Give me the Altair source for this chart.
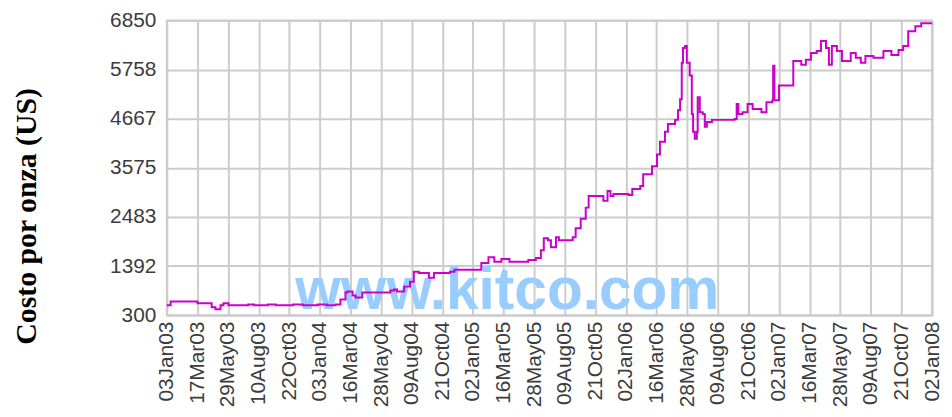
import altair as alt
import pandas as pd

# ---- data (rhodium price, US$ per oz) ----
dates = [
    "2003-01-03", "2003-01-12", "2003-03-13", "2003-03-17", "2003-04-08", "2003-04-20",
    "2003-04-29", "2003-05-11", "2003-05-18", "2003-05-30", "2003-07-16", "2003-07-30",
    "2003-09-01", "2003-09-20", "2003-10-31", "2003-11-23", "2003-12-29", "2004-01-20",
    "2004-02-09", "2004-02-21", "2004-03-04", "2004-03-09", "2004-03-21", "2004-03-28",
    "2004-04-13", "2004-06-07", "2004-06-19", "2004-06-28", "2004-07-05", "2004-07-22",
    "2004-08-05", "2004-08-14", "2004-08-26", "2004-09-14", "2004-09-19", "2004-10-01",
    "2004-11-08", "2004-11-19", "2005-01-06", "2005-01-22", "2005-02-08", "2005-02-22",
    "2005-03-11", "2005-03-30", "2005-05-14", "2005-06-01", "2005-06-13", "2005-06-20",
    "2005-06-30", "2005-07-07", "2005-07-19", "2005-07-26", "2005-08-28", "2005-09-04",
    "2005-09-16", "2005-09-28", "2005-10-05", "2005-11-09", "2005-11-19", "2005-11-26",
    "2005-12-03", "2006-01-08", "2006-01-17", "2006-02-05", "2006-02-12", "2006-03-05",
    "2006-03-17", "2006-03-24", "2006-04-05", "2006-04-12", "2006-04-29", "2006-05-06",
    "2006-05-11", "2006-05-15", "2006-05-18", "2006-05-23", "2006-05-27", "2006-06-03",
    "2006-06-08", "2006-06-11", "2006-06-15", "2006-06-20", "2006-06-22", "2006-06-27",
    "2006-07-04", "2006-07-09", "2006-07-14", "2006-07-26", "2006-09-18", "2006-09-23",
    "2006-09-27", "2006-10-07", "2006-10-19", "2006-10-31", "2006-11-21", "2006-12-03",
    "2006-12-17", "2006-12-19", "2006-12-22", "2007-01-02", "2007-02-05", "2007-02-24",
    "2007-03-07", "2007-03-19", "2007-04-02", "2007-04-12", "2007-04-24", "2007-05-01",
    "2007-05-08", "2007-05-20", "2007-06-01", "2007-06-22", "2007-07-04", "2007-07-16",
    "2007-07-27", "2007-08-15", "2007-09-08", "2007-09-27", "2007-10-14", "2007-10-25",
    "2007-11-06", "2007-11-23", "2007-12-07", "2007-12-31",
]
prices = [
    520, 605, 605, 565, 565, 475,
    430, 520, 565, 520, 540, 520,
    540, 520, 540, 520, 540, 520,
    540, 650, 805, 825, 740, 695,
    805, 805, 850, 870, 825, 935,
    1045, 1265, 1240, 1240, 1130, 1240,
    1265, 1310, 1310, 1460, 1590, 1485,
    1550, 1485, 1525, 1570, 1745, 2010,
    1965, 1810, 2030, 1965, 2030, 2230,
    2445, 2690, 2950, 2840, 3060, 2950,
    2995, 2970, 3105, 3170, 3430, 3610,
    3870, 4155, 4375, 4550, 4640, 4855,
    5100, 5910, 6235, 6280, 5910, 5625,
    4770, 4375, 4220, 4375, 5140, 4810,
    4770, 4485, 4595, 4640, 4660, 4990,
    4770, 4810, 4990, 4880, 4810, 5030,
    5075, 5840, 5075, 5405, 5950, 5865,
    5975, 6125, 6170, 6390, 6235, 5865,
    6280, 6170, 5950, 6125, 6020, 5910,
    6060, 6020, 6170, 6080, 6190, 6280,
    6610, 6720, 6785, 6805,
]

x_tick_labels = [
    "03Jan03", "17Mar03", "29May03", "10Aug03", "22Oct03", "03Jan04", "16Mar04",
    "28May04", "09Aug04", "21Oct04", "02Jan05", "16Mar05", "28May05", "09Aug05",
    "21Oct05", "02Jan06", "16Mar06", "28May06", "09Aug06", "21Oct06", "02Jan07",
    "16Mar07", "28May07", "09Aug07", "21Oct07", "02Jan08",
]
y_ticks = [300, 1391.67, 2483.33, 3575, 4666.67, 5758.33, 6850]

watermark_text = ["www.kitco.com"]
watermark_date = ["2005-03-25"]
watermark_value = [430]

y_title = "Costo por onza (US)"

MONTHS = {"Jan": 1, "Feb": 2, "Mar": 3, "Apr": 4, "May": 5, "Jun": 6,
          "Jul": 7, "Aug": 8, "Sep": 9, "Oct": 10, "Nov": 11, "Dec": 12}


def to_dt(s):
    return alt.DateTime(year=2000 + int(s[5:]), month=MONTHS[s[2:5]],
                        date=int(s[:2]), utc=True)


x_values = [to_dt(s) for s in x_tick_labels]

df = pd.DataFrame({"date": dates, "price": prices})
wm = pd.DataFrame({"date": watermark_date, "price": watermark_value, "text": watermark_text})

x_scale = alt.Scale(type="utc", domain=[x_values[0], x_values[-1]], nice=False)
y_scale = alt.Scale(domain=[300, 6850], nice=False, zero=False)

x_axis = alt.Axis(
    values=x_values,
    labelExpr="utcFormat(datum.value, '%d%b%y')",
    labelAngle=270,
    labelAlign="right",
    labelBaseline="middle",
    labelFont="Liberation Sans",
    labelFontSize=21,
    labelColor="#3c3c3c",
    labelPadding=6,
    labelOverlap=False,
    tickSize=0,
    domain=False,
    grid=True,
    gridColor="#cccccc",
    gridWidth=2,
    title=None,
)
y_axis = alt.Axis(
    values=y_ticks,
    format=".0f",
    labelFont="Liberation Sans",
    labelFontSize=21,
    labelColor="#3c3c3c",
    labelPadding=11,
    tickSize=0,
    domain=False,
    grid=True,
    gridColor="#cccccc",
    gridWidth=2,
    title=y_title,
    titleFont="Liberation Serif",
    titleFontWeight="bold",
    titleFontSize=30,
    titleColor="#000000",
    titleAngle=270,
    titleAlign="center",
    titleBaseline="middle",
    titleX=-141,
    titleY=197,
)

watermark = alt.Chart(wm).mark_text(
    font="Liberation Sans",
    fontWeight="bold",
    fontSize=59,
    color="#99ccff",
    align="center",
    baseline="alphabetic",
).encode(
    x=alt.X("date:T", scale=x_scale, axis=x_axis),
    y=alt.Y("price:Q", scale=y_scale, axis=y_axis),
    text="text:N",
)

line = alt.Chart(df).mark_line(
    color="#cc00cc",
    strokeWidth=2,
    interpolate="step-after",
).encode(
    x=alt.X("date:T", scale=x_scale, axis=x_axis),
    y=alt.Y("price:Q", scale=y_scale, axis=y_axis),
)

chart = alt.layer(watermark, line).properties(
    width=771,
    height=297,
    autosize=alt.AutoSizeParams(type="none"),
    padding={"left": 160, "top": 11, "right": 12, "bottom": 92},
).configure_view(
    stroke="#cccccc",
    strokeWidth=2,
)

chart.save("out.html", embed_options={"renderer": "svg", "actions": False})
